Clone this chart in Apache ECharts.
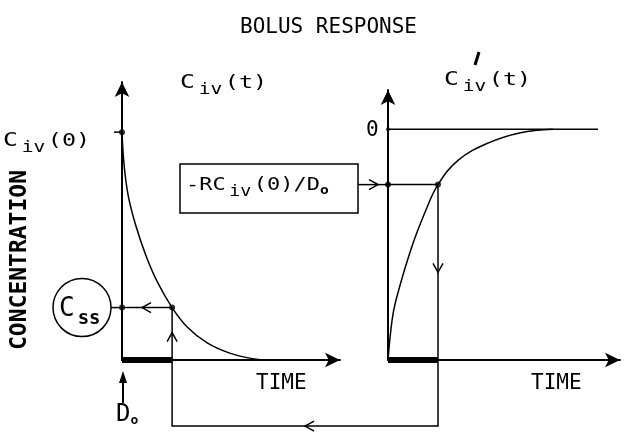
<!DOCTYPE html>
<html>
<head>
<meta charset="utf-8">
<script src="https://cdn.jsdelivr.net/npm/echarts@6/dist/echarts.min.js"></script>
<style>
  html, body { margin: 0; padding: 0; background: #fff; }
  #chart { width: 628px; height: 433px; }
</style>
</head>
<body>
<div id="chart"></div>
<script>
// Bolus response C_iv(t), concentration relative to C_iv(0), time in arbitrary units
const bolusTime = [0, 0.08, 0.25, 0.55, 0.95, 1.4, 2.0, 2.6, 3.4, 4.3, 5.2, 5.9];
const bolusConc = [1.0, 0.86, 0.72, 0.59, 0.46, 0.345, 0.23, 0.145, 0.075, 0.03, 0.006, 0];

// Derived response C'_iv(t)
const derivTime = [0, 0.16, 0.32, 0.92, 1.48, 2.0, 2.8, 4.0, 5.3, 6.6];
const derivConc = [-1, -0.83, -0.74, -0.52, -0.36, -0.24, -0.135, -0.06, -0.015, 0];

const infusionEnd = 2.0;     // end of the dosing interval
const steadyState = 0.23;    // C_ss at infusionEnd
const derivAtEnd = -0.24;    // C'_iv at infusionEnd
const zeroLineEnd = 8.4;     // extent of the zero reference line
const loopLevel = -0.29;     // level of the return path below the left time axis

const pairs = (xs, ys) => xs.map((x, i) => [x, ys[i]]);

const FONT = '"DejaVu Sans Mono", monospace';
const INK = '#000';

const chart = echarts.init(document.getElementById('chart'), null, { renderer: 'canvas' });

function axis(extra) {
  return Object.assign({
    type: 'value',
    axisTick: { show: false },
    axisLabel: { show: false },
    splitLine: { show: false },
    axisLine: {
      show: true, onZero: false,
      symbol: ['none', 'arrow'], symbolSize: [11, 15],
      lineStyle: { color: INK, width: 2 }
    }
  }, extra);
}

function lineSeries(xi, data, width) {
  return {
    type: 'line', xAxisIndex: xi, yAxisIndex: xi, data: data,
    symbol: 'none', silent: true,
    lineStyle: { color: INK, width: width || 1.5 }
  };
}

chart.setOption({
  animation: false,
  backgroundColor: '#fff',
  title: {
    text: 'BOLUS RESPONSE', left: 235, top: 12,
    textStyle: { fontFamily: FONT, fontSize: 21, fontWeight: 'normal', color: INK }
  },
  grid: [
    { left: 122, top: 82, width: 218, height: 278 },
    { left: 388, top: 90, width: 232, height: 270 }
  ],
  xAxis: [axis({ gridIndex: 0, min: 0, max: 8.7 }), axis({ gridIndex: 1, min: 0, max: 9.28 })],
  yAxis: [axis({ gridIndex: 0, min: 0, max: 1.22 }), axis({ gridIndex: 1, min: -1, max: 0.17 })],
  series: [
    Object.assign(lineSeries(0, pairs(bolusTime, bolusConc)), { smooth: 0.4 }),
    Object.assign(lineSeries(1, pairs(derivTime, derivConc)), { smooth: 0.4 }),
    lineSeries(1, [[0, 0], [zeroLineEnd, 0]]),
    // dosing interval bars
    lineSeries(0, [[0, 0], [infusionEnd, 0]], 6),
    lineSeries(1, [[0, -1], [infusionEnd, -1]], 6),
    // read-off guides
    lineSeries(0, [[0, steadyState], [infusionEnd, steadyState], [infusionEnd, 0]]),
    lineSeries(1, [[0, derivAtEnd], [infusionEnd, derivAtEnd], [infusionEnd, -1]]),
    {
      type: 'scatter', xAxisIndex: 0, yAxisIndex: 0, symbolSize: 6, silent: true,
      itemStyle: { color: INK },
      data: [[0, 1], [0, steadyState], [infusionEnd, steadyState]]
    },
    {
      type: 'scatter', xAxisIndex: 1, yAxisIndex: 1, symbolSize: 6, silent: true,
      itemStyle: { color: INK },
      data: [[0, derivAtEnd], [infusionEnd, derivAtEnd]]
    },
    {
      type: 'scatter', xAxisIndex: 1, yAxisIndex: 1, symbolSize: 4, silent: true,
      itemStyle: { color: INK },
      data: [[0, 0]]
    }
  ]
});

// ---- annotations placed from the axes' own pixel mapping ----
const L = (p) => chart.convertToPixel({ gridIndex: 0 }, p);
const R = (p) => chart.convertToPixel({ gridIndex: 1 }, p);

const c0 = L([0, 1]);
const cssAxis = L([0, steadyState]);
const leftEndBase = L([infusionEnd, 0]);
const rightEndBase = R([infusionEnd, -1]);
const rightAxisPt = R([0, derivAtEnd]);
const rightZero = R([0, 0]);
const loopY = L([0, loopLevel])[1];

const stroke = { stroke: INK, lineWidth: 1.5, fill: null };

function chevron(p, dir, len, w) {
  len = len || 9; w = w || 5;
  const [x, y] = p, [dx, dy] = dir, nx = -dy, ny = dx;
  return {
    type: 'polyline', silent: true,
    shape: { points: [[x - dx * len + nx * w, y - dy * len + ny * w], [x, y], [x - dx * len - nx * w, y - dy * len - ny * w]] },
    style: stroke
  };
}
function text(x, y, str, rich, extra, scaleX) {
  return {
    type: 'text', silent: true, x: x, y: y, scaleX: scaleX || 1,
    style: Object.assign({ text: str, rich: rich, fill: INK, font: '18px ' + FONT, verticalAlign: 'middle' }, extra || {})
  };
}
// C with lowered "iv" and an argument in parentheses (drawn wide, plotter style)
const richC = {
  c: { fontFamily: FONT, fontSize: 19, color: INK },
  s: { fontFamily: FONT, fontSize: 15, color: INK, padding: [14, 2, 0, 3] },
  p: { fontFamily: FONT, fontSize: 18, color: INK }
};
const WIDE = 1.3;

const circleCx = 82, circleR = 29;
const boxRect = { x: 180, y: 164, width: 178, height: 49 };

const graphics = [
  // return path: from right panel down, across, and up into left panel
  {
    type: 'polyline', silent: true,
    shape: { points: [rightEndBase, [rightEndBase[0], loopY], [leftEndBase[0], loopY], leftEndBase] },
    style: stroke
  },
  chevron([(leftEndBase[0] + rightEndBase[0]) / 2, loopY], [-1, 0]),
  chevron(L([0.8, steadyState]), [-1, 0]),
  chevron(L([infusionEnd, 0.12]), [0, -1]),
  chevron(R([infusionEnd, -0.62]), [0, 1]),
  // box label and its pointer to the right axis
  { type: 'rect', silent: true, shape: boxRect, style: stroke },
  { type: 'line', silent: true, shape: { x1: boxRect.x + boxRect.width, y1: rightAxisPt[1], x2: rightAxisPt[0], y2: rightAxisPt[1] }, style: stroke },
  chevron([rightAxisPt[0] - 10, rightAxisPt[1]], [1, 0]),
  text(boxRect.x + 6, boxRect.y + boxRect.height / 2 - 3, '{p|-RC}{s|iv}{p|(0)/D}{o|o}', Object.assign({}, richC, {
    o: { fontFamily: FONT, fontSize: 12, fontWeight: 'bold', color: INK, padding: [11, 0, 0, 0] }
  }), null, 1.22),
  // C_ss circle and its link to the left axis
  { type: 'circle', silent: true, shape: { cx: circleCx, cy: cssAxis[1], r: circleR }, style: stroke },
  { type: 'line', silent: true, shape: { x1: circleCx + circleR, y1: cssAxis[1], x2: cssAxis[0], y2: cssAxis[1] }, style: stroke },
  text(circleCx - 23, cssAxis[1] + 2, '{c|C}{s|ss}', {
    c: { fontFamily: FONT, fontSize: 26, color: INK },
    s: { fontFamily: FONT, fontSize: 19, fontWeight: 'bold', color: INK, padding: [18, 0, 0, 3] }
  }),
  // C_iv(0) label with tick
  { type: 'line', silent: true, shape: { x1: c0[0] - 8, y1: c0[1], x2: c0[0], y2: c0[1] }, style: stroke },
  text(3, c0[1] + 9, '{c|C}{s|iv}{p|(0)}', richC, null, WIDE),
  // panel headings
  text(180, 83, '{c|C}{s|iv}{p|(t)}', richC, null, WIDE),
  text(444, 80, '{c|C}{s|iv}{p|(t)}', richC, null, WIDE),
  { type: 'line', silent: true, shape: { x1: 475, y1: 65, x2: 479, y2: 52 }, style: { stroke: INK, lineWidth: 3 } },
  // zero label on the right axis
  text(rightZero[0] - 22, rightZero[1] + 1, '0', null, { font: '21px ' + FONT }),
  // time labels
  text(256, 384, 'TIME', null, { font: '21px ' + FONT }),
  text(531, 384, 'TIME', null, { font: '21px ' + FONT }),
  // dose marker below the left axis
  { type: 'line', silent: true, shape: { x1: c0[0] + 1, y1: 403, x2: c0[0] + 1, y2: 380 }, style: { stroke: INK, lineWidth: 2 } },
  {
    type: 'polygon', silent: true,
    shape: { points: [[c0[0] + 1, 371], [c0[0] - 3, 383], [c0[0] + 5, 383]] },
    style: { fill: INK }
  },
  text(116, 415, '{c|D}{o|o}', {
    c: { fontFamily: FONT, fontSize: 24, color: INK },
    o: { fontFamily: FONT, fontSize: 13, fontWeight: 'bold', color: INK, padding: [12, 0, 0, 0] }
  }),
  // vertical axis title
  {
    type: 'text', silent: true, x: 20, y: 260, rotation: Math.PI / 2,
    style: { text: 'CONCENTRATION', fill: INK, font: 'bold 23px ' + FONT, align: 'center', verticalAlign: 'middle' }
  }
];

chart.setOption({ graphic: { elements: graphics } });
</script>
</body>
</html>
